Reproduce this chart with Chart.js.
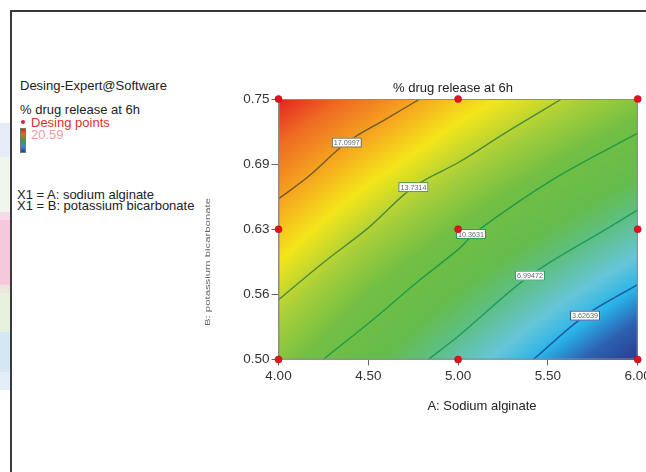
<!DOCTYPE html>
<html>
<head>
<meta charset="utf-8">
<script src="https://cdn.jsdelivr.net/npm/chart.js@4.4.1/dist/chart.umd.min.js"></script>
<style>
body{margin:0;width:646px;height:472px;overflow:hidden;background:#fff;position:relative;font-family:"Liberation Sans",Arial,sans-serif;}
.strip{position:absolute;left:0;width:10px;}
.frame-top{position:absolute;left:10px;top:10px;width:700px;height:1.5px;background:#3a3a3a;}
.frame-left{position:absolute;left:10px;top:10px;width:1.5px;height:480px;background:#3a3a3a;}
.txt{position:absolute;font-size:13px;line-height:15px;color:#222;white-space:nowrap;}
#chart{position:absolute;left:0;top:0;}
</style>
</head>
<body>
<div class="strip" style="top:123px;height:34px;background:#e4edf8"></div>
<div class="strip" style="top:157px;height:55px;background:#f0f6ec"></div>
<div class="strip" style="top:212px;height:8px;background:#f5dbe7"></div>
<div class="strip" style="top:220px;height:65px;background:#f6c8dd"></div>
<div class="strip" style="top:285px;height:8px;background:#ebe6dc"></div>
<div class="strip" style="top:293px;height:39px;background:#e7f1de"></div>
<div class="strip" style="top:332px;height:40px;background:#d5e7f3"></div>
<div class="strip" style="top:372px;height:18px;background:#e3eef8"></div>
<div class="frame-top"></div>
<div class="frame-left"></div>

<div class="txt" style="left:20px;top:78px">Desing-Expert@Software</div>
<div class="txt" style="left:20px;top:101.5px">% drug release at 6h</div>
<div style="position:absolute;left:21px;top:120px;width:4px;height:4px;border-radius:50%;background:#d9262a"></div>
<div class="txt" style="left:31px;top:115px;color:#e0302e">Desing points</div>
<div style="position:absolute;left:20px;top:128px;width:6px;height:25px;border:0.5px solid #777;box-sizing:border-box;background:linear-gradient(#d8202a,#e06a24 20%,#3a9e48 50%,#2e8ec8 78%,#2a3b8f)"></div>
<div class="txt" style="left:31px;top:126.5px;color:#f29aa2">20.59</div>
<div class="txt" style="left:17px;top:186.5px">X1 = A: sodium alginate</div>
<div class="txt" style="left:17px;top:198px">X1 = B: potassium bicarbonate</div>

<canvas id="chart" width="680" height="472"></canvas>
<script>
// axes
const aTicks = [4.0, 4.5, 5.0, 5.5, 6.0];
const aTickLabels = ['4.00', '4.50', '5.00', '5.50', '6.00'];
const bTicks = [0.5, 0.5625, 0.625, 0.6875, 0.75];
const bTickLabels = ['0.50', '0.56', '0.63', '0.69', '0.75'];

// % drug release at the tick grid (one row per B tick, columns = A ticks)
const releaseB050 = [11.8, 8.9, 6.0, 3.2, 0.6];
const releaseB056 = [13.9, 11.0, 8.4, 5.8, 3.3];
const releaseB063 = [16.1, 13.3, 10.9, 8.5, 6.2];
const releaseB069 = [18.3, 15.8, 13.4, 11.2, 9.0];
const releaseB075 = [20.59, 18.4, 15.9, 13.9, 11.8];
const releaseGrid = [releaseB050, releaseB056, releaseB063, releaseB069, releaseB075];

// contour lines [A, B]
const contourLevels = ['17.0997', '13.7314', '10.3631', '6.99472', '3.62639'];
const contour17 = [[4.0, 0.6541], [4.166, 0.6756], [4.38, 0.7082], [4.593, 0.7303], [4.788, 0.75]];
const contour13 = [[4.0, 0.5574], [4.259, 0.5943], [4.5, 0.6263], [4.751, 0.6654], [5.011, 0.69], [5.261, 0.7173], [5.577, 0.75]];
const contour10 = [[4.249, 0.5], [4.537, 0.5399], [4.778, 0.5751], [5.011, 0.6071], [5.10, 0.6225], [5.54, 0.674], [6.0, 0.7172]];
const contour7 = [[4.834, 0.5], [5.011, 0.5238], [5.4, 0.5805], [5.836, 0.6263], [6.0, 0.6436]];
const contour4 = [[5.419, 0.5], [5.707, 0.5421], [6.0, 0.5718]];
const contourLines = [contour17, contour13, contour10, contour7, contour4];
const contourColors = ['#6e5a2c', '#4a8a3a', '#1f9a48', '#1f9a5e', '#1d55a0'];
// where each level is labelled [A, B]
const labelA = [4.38, 4.751, 5.072, 5.40, 5.707];
const labelB = [0.7082, 0.6654, 0.6205, 0.5805, 0.5421];

// design points
const designA = [4, 5, 6, 4, 5, 6, 4, 5, 6];
const designB = [0.75, 0.75, 0.75, 0.625, 0.625, 0.625, 0.5, 0.5, 0.5];

// colour scale of the response
const colorStops = [
  [0.6, '#2a3b8f'], [2.2, '#2d62b2'], [3.6, '#29b4e8'], [5.0, '#66c6da'],
  [7.0, '#5ebf82'], [8.5, '#66bc4c'], [11.0, '#72bf44'], [13.0, '#a8cf3a'],
  [15.0, '#f4e61a'], [17.1, '#f6a21f'], [19.0, '#ee6a22'], [20.59, '#e42422']
];

function hexRgb(h){
  return [parseInt(h.substr(1,2),16), parseInt(h.substr(3,2),16), parseInt(h.substr(5,2),16)];
}
const stopRgb = colorStops.map(s => [s[0], hexRgb(s[1])]);

function colorFor(z){
  if(z <= stopRgb[0][0]) return stopRgb[0][1];
  for(let i = 1; i < stopRgb.length; i++){
    if(z <= stopRgb[i][0]){
      const t = (z - stopRgb[i-1][0]) / (stopRgb[i][0] - stopRgb[i-1][0]);
      const c0 = stopRgb[i-1][1], c1 = stopRgb[i][1];
      return [c0[0]+(c1[0]-c0[0])*t, c0[1]+(c1[1]-c0[1])*t, c0[2]+(c1[2]-c0[2])*t];
    }
  }
  return stopRgb[stopRgb.length-1][1];
}

function cellIndex(ticks, v){
  let i = 0;
  while(i < ticks.length - 2 && v > ticks[i+1]) i++;
  return i;
}

function surfaceAt(a, b){
  const i = cellIndex(aTicks, a), j = cellIndex(bTicks, b);
  const ta = Math.min(1, Math.max(0, (a - aTicks[i]) / (aTicks[i+1] - aTicks[i])));
  const tb = Math.min(1, Math.max(0, (b - bTicks[j]) / (bTicks[j+1] - bTicks[j])));
  const z00 = releaseGrid[j][i], z10 = releaseGrid[j][i+1];
  const z01 = releaseGrid[j+1][i], z11 = releaseGrid[j+1][i+1];
  return z00*(1-ta)*(1-tb) + z10*ta*(1-tb) + z01*(1-ta)*tb + z11*ta*tb;
}

const FONT = '"Liberation Sans", Arial, sans-serif';

// paints the response surface behind the lines
const surfacePlugin = {
  id: 'surface',
  beforeDatasetsDraw(chart){
    const {ctx, chartArea, scales} = chart;
    const left = chartArea.left, top = chartArea.top;
    const w = Math.round(chartArea.right - left), h = Math.round(chartArea.bottom - top);
    const off = document.createElement('canvas');
    off.width = w; off.height = h;
    const octx = off.getContext('2d');
    const img = octx.createImageData(w, h);
    for(let j = 0; j < h; j++){
      const b = scales.y.getValueForPixel(top + j + 0.5);
      for(let i = 0; i < w; i++){
        const a = scales.x.getValueForPixel(left + i + 0.5);
        const c = colorFor(surfaceAt(a, b));
        const k = (j*w + i) * 4;
        img.data[k] = c[0]; img.data[k+1] = c[1]; img.data[k+2] = c[2]; img.data[k+3] = 255;
      }
    }
    octx.putImageData(img, 0, 0);
    ctx.drawImage(off, left, top, chartArea.right - left, chartArea.bottom - top);
  },
  // level labels + frame go between the lines and the design points
  afterDatasetDraw(chart, args){
    if(args.index !== 1) return;
    const {ctx, chartArea, scales} = chart;
    ctx.save();
    ctx.strokeStyle = '#8c8c8c';
    ctx.lineWidth = 1;
    ctx.strokeRect(chartArea.left + 0.5, chartArea.top + 0.5, chartArea.right - chartArea.left - 1, chartArea.bottom - chartArea.top - 1);
    ctx.textAlign = 'center';
    ctx.textBaseline = 'middle';
    for(let i = 0; i < contourLevels.length; i++){
      const px = scales.x.getPixelForValue(labelA[i]);
      const py = scales.y.getPixelForValue(labelB[i]);
      const bw = 30, bh = 10;
      ctx.fillStyle = '#ffffff';
      ctx.fillRect(px - bw/2, py - bh/2, bw, bh);
      ctx.strokeStyle = contourColors[i];
      ctx.strokeRect(px - bw/2 + 0.5, py - bh/2 + 0.5, bw - 1, bh - 1);
      ctx.save();
      ctx.translate(px, py + 0.5);
      ctx.font = '8px ' + FONT;
      const sx = Math.min(1, 26 / ctx.measureText(contourLevels[i]).width);
      ctx.scale(sx, 1);
      ctx.fillStyle = '#666';
      ctx.fillText(contourLevels[i], 0, 0);
      ctx.restore();
    }
    ctx.restore();
  },
  afterDraw(chart){
    const {ctx, chartArea} = chart;
    ctx.save();
    ctx.fillStyle = '#222';
    ctx.textAlign = 'center';
    ctx.textBaseline = 'middle';
    ctx.font = '13px ' + FONT;
    ctx.fillText('% drug release at 6h', 453, chartArea.top - 11);
    ctx.fillText('A: Sodium alginate', 482, chartArea.bottom + 46.5);
    // tiny stretched y title
    ctx.translate(207.5, 262);
    ctx.rotate(-Math.PI/2);
    ctx.font = '7.5px ' + FONT;
    const t = 'B: potassium bicarbonate';
    const sx = 128 / ctx.measureText(t).width;
    ctx.scale(sx, 1);
    ctx.fillStyle = '#666';
    ctx.fillText(t, 0, 0);
    ctx.restore();
  }
};

const datasets = [{
  type: 'scatter',
  data: designA.map((a, i) => ({x: a, y: designB[i]})),
  pointRadius: 3.5,
  backgroundColor: '#e0141c',
  borderColor: '#b40d14',
  borderWidth: 0.6,
  clip: false
}];
contourLines.forEach((line, i) => {
  datasets.push({
    type: 'line',
    data: line.map(p => ({x: p[0], y: p[1]})),
    borderColor: contourColors[i],
    borderWidth: 1.4,
    pointRadius: 0,
    tension: 0.35,
    fill: false
  });
});

new Chart(document.getElementById('chart'), {
  type: 'scatter',
  data: {datasets},
  plugins: [surfacePlugin],
  options: {
    responsive: false,
    animation: false,
    devicePixelRatio: 1,
    layout: {padding: {left: 200, top: 99, right: 42.3, bottom: 72.5}},
    plugins: {legend: {display: false}, tooltip: {enabled: false}},
    scales: {
      x: {
        type: 'linear', min: 4, max: 6,
        afterBuildTicks: s => { s.ticks = aTicks.map(v => ({value: v})); },
        afterFit: s => { s.height = 40; },
        ticks: {
          callback: (v, i) => aTickLabels[i],
          font: {family: FONT, size: 13.5}, color: '#333', padding: 3, maxRotation: 0
        },
        grid: {drawOnChartArea: false, drawTicks: true, tickLength: 6, color: '#666'},
        border: {display: true, color: '#8c8c8c'}
      },
      y: {
        type: 'linear', min: 0.5, max: 0.75,
        afterBuildTicks: s => { s.ticks = bTicks.map(v => ({value: v})); },
        afterFit: s => { s.width = 78.5; },
        ticks: {
          callback: (v, i) => bTickLabels[i],
          font: {family: FONT, size: 13.5}, color: '#333', padding: 2
        },
        grid: {drawOnChartArea: false, drawTicks: true, tickLength: 7, color: '#666'},
        border: {display: true, color: '#8c8c8c'}
      }
    }
  }
});
</script>
</body>
</html>
